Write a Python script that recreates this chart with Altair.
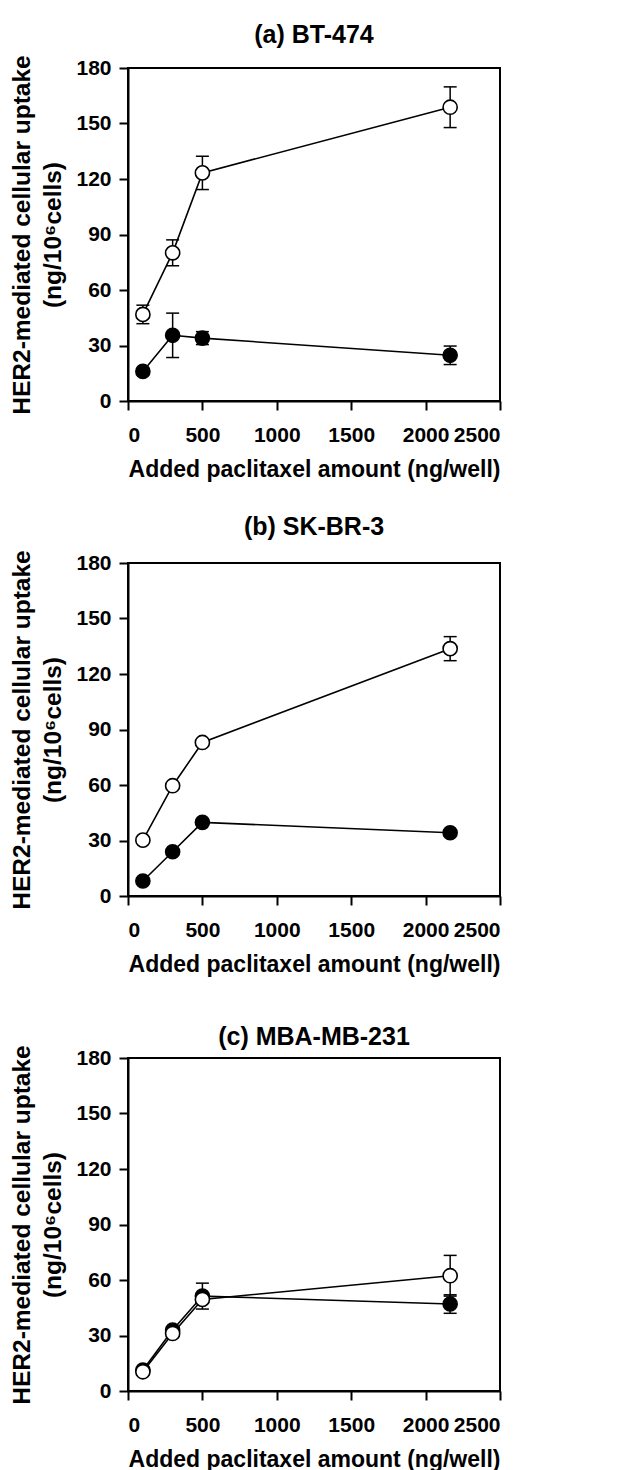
import altair as alt
import pandas as pd

# ---- data ----
DOSE = [100, 300, 500, 2165]

TITLES = ["(a) BT-474", "(b) SK-BR-3", "(c) MBA-MB-231"]

A_OPEN = [46.8, 80.1, 123.3, 158.8]
A_OPEN_ERR = [5.0, 7.0, 9.0, 11.0]
A_FILLED = [16.0, 35.5, 34.0, 24.7]
A_FILLED_ERR = [1.5, 12.0, 3.5, 5.0]

B_OPEN = [30.2, 59.6, 83.0, 133.7]
B_OPEN_ERR = [1.5, 1.5, 1.5, 6.5]
B_FILLED = [8.1, 23.9, 39.8, 34.2]
B_FILLED_ERR = [1.5, 1.5, 1.5, 1.5]

C_OPEN = [10.4, 31.1, 49.5, 62.3]
C_OPEN_ERR = [1.5, 1.5, 2.0, 11.0]
C_FILLED = [11.3, 33.0, 51.3, 47.0]
C_FILLED_ERR = [1.5, 1.5, 7.0, 5.0]

X_TICKS = [0, 500, 1000, 1500, 2000, 2500]
Y_TICKS = [0, 30, 60, 90, 120, 150, 180]

X_TITLE = "Added paclitaxel amount (ng/well)"
Y_TITLE = ["HER2-mediated cellular uptake", "(ng/10\u2076cells)"]

FONT = "Liberation Sans"
TITLE_OFFSETS = [7, 10, -5]


def panel(title, off, open_y, open_e, fill_y, fill_e):
    rows = []
    for s, ys, es in [("filled", fill_y, fill_e), ("open", open_y, open_e)]:
        for x, y, e in zip(DOSE, ys, es):
            rows.append(dict(dose=x, val=y, lo=y - e, hi=y + e, series=s))
    df = pd.DataFrame(rows)

    xenc = alt.X("dose:Q", scale=alt.Scale(domain=[0, 2500], nice=False),
                 axis=alt.Axis(values=X_TICKS, title=X_TITLE, format="d",
                               labelOverlap=False))
    yenc = alt.Y("val:Q", scale=alt.Scale(domain=[0, 180], nice=False),
                 axis=alt.Axis(values=Y_TICKS, title=Y_TITLE, format="d",
                               labelOverlap=False))

    base = alt.Chart(df)
    line = base.mark_line(color="black", strokeWidth=1.6).encode(
        x=xenc, y=yenc, detail="series:N")
    rule = base.mark_rule(color="black", strokeWidth=1.5).encode(
        x="dose:Q", y="lo:Q", y2="hi:Q")
    cap_lo = base.mark_tick(orient="horizontal", size=13, thickness=1.5,
                            color="black", opacity=1).encode(x="dose:Q", y="lo:Q")
    cap_hi = base.mark_tick(orient="horizontal", size=13, thickness=1.5,
                            color="black", opacity=1).encode(x="dose:Q", y="hi:Q")
    filled = base.transform_filter(alt.datum.series == "filled").mark_point(
        shape="circle", filled=True, fill="black", stroke="black",
        strokeWidth=1.5, size=200, opacity=1).encode(x="dose:Q", y="val:Q")
    opn = base.transform_filter(alt.datum.series == "open").mark_point(
        shape="circle", filled=True, fill="white", stroke="black",
        strokeWidth=1.6, size=200, opacity=1).encode(x="dose:Q", y="val:Q")

    return alt.layer(line, rule, cap_lo, cap_hi, filled, opn).properties(
        width=372, height=333,
        title=alt.TitleParams(title, offset=off, frame="group", anchor="middle",
                              font=FONT, fontSize=25,
                              fontWeight="bold", color="black"))


charts = [
    panel(TITLES[0], TITLE_OFFSETS[0], A_OPEN, A_OPEN_ERR, A_FILLED, A_FILLED_ERR),
    panel(TITLES[1], TITLE_OFFSETS[1], B_OPEN, B_OPEN_ERR, B_FILLED, B_FILLED_ERR),
    panel(TITLES[2], TITLE_OFFSETS[2], C_OPEN, C_OPEN_ERR, C_FILLED, C_FILLED_ERR),
]

chart = alt.vconcat(*charts, spacing=162, bounds="flush").properties(
    padding={"top": 13, "left": 0, "right": 5, "bottom": 2}
).configure_view(
    stroke="black", strokeWidth=2
).configure_axis(
    grid=False, domainColor="black", domainWidth=2,
    tickColor="black", tickWidth=2, tickSize=9,
    labelFont=FONT, labelFontSize=21, labelFontWeight="bold", labelColor="black",
    titleFont=FONT, titleFontSize=23, titleFontWeight="bold", titleColor="black",
).configure_axisX(
    labelPadding=14, titlePadding=13
).configure_axisY(
    labelPadding=8, titlePadding=10, titleLineHeight=31, titleFontSize=24.5
)

chart.save("out.html", embed_options={"renderer": "svg", "actions": False})
